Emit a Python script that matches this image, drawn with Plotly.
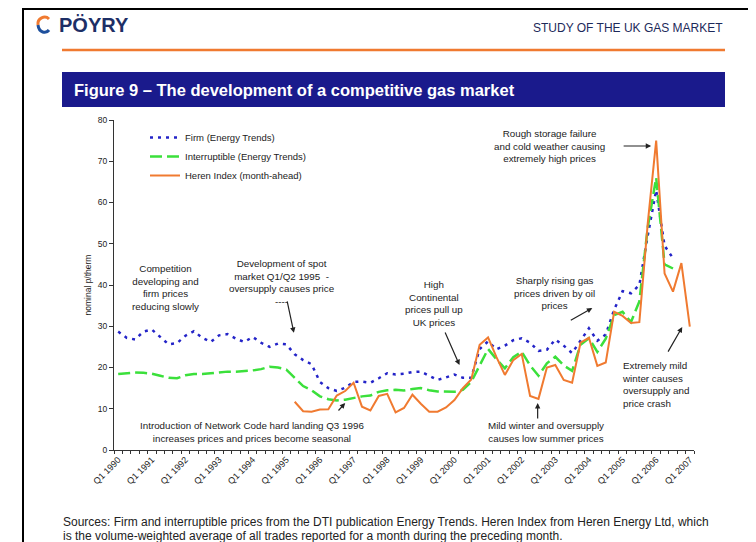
import plotly.graph_objects as pGraph

FIRM_COLOR = '#2424c8'
INTERRUPT_COLOR = '#3be03b'
HEREN_COLOR = '#f07a30'
NAVY = '#1a1a8c'
FONT = 'Arial, Liberation Sans, sans-serif'

# quarterly categories Q1 1990 .. Q1 2007
quarters = ['Q%d %d' % (q, y) for y in range(1990, 2008) for q in range(1, 5)][:69]

# p/therm, Q1 1990 .. Q3 2006
firm = [28.7, 27.2, 26.8, 28.7, 29.2, 27.5, 25.6, 25.9, 27.7, 28.8,
        27.2, 26.2, 27.8, 28.1, 27.0, 26.2, 27.4, 26.0, 25.0, 25.8,
        25.6, 23.2, 21.8, 20.8, 16.5, 15.0, 14.3, 15.1, 16.5, 16.6,
        16.3, 17.4, 18.6, 18.3, 18.5, 18.9, 19.0, 18.0, 17.0, 17.6,
        18.3, 17.5, 17.5, 24.5, 26.3, 24.4, 25.3, 26.6, 27.1, 26.0,
        24.0, 24.3, 26.8, 25.3, 23.5, 26.5, 29.5, 26.5, 28.0, 34.0,
        38.5, 38.0, 40.0, 52.0, 63.0, 49.5, 46.5]
interruptible = [18.4, 18.6, 18.8, 18.7, 18.5, 18.0, 17.5, 17.4, 18.1, 18.4,
                 18.4, 18.6, 18.8, 19.0, 19.0, 19.1, 19.3, 19.6, 20.2, 20.0,
                 19.5, 17.5, 15.5, 14.5, 13.0, 12.3, 12.0, 12.2, 12.6, 13.0,
                 13.2, 14.1, 14.5, 14.6, 14.4, 14.8, 15.0, 14.5, 14.2, 14.1,
                 14.1, 14.6, 16.5, 20.5, 24.5, 22.0, 19.8, 22.5, 23.8, 20.5,
                 18.0, 21.0, 22.6, 20.5, 19.2, 25.5, 27.1, 23.8, 27.0, 32.7,
                 33.5, 31.0, 36.0, 54.0, 66.0, 45.0, 44.0]
# Heren index, Q2 1995 .. Q1 2007
heren = [11.7, 9.4, 9.3, 9.8, 9.9, 13.2, 14.3, 16.3, 10.5, 9.6,
         13.1, 13.6, 9.1, 10.2, 13.4, 11.2, 9.3, 9.3, 10.3, 12.1,
         15.0, 17.1, 25.5, 27.3, 22.5, 18.2, 21.8, 23.3, 13.1, 12.4,
         20.0, 20.6, 17.0, 16.3, 26.0, 27.2, 20.4, 21.2, 33.5, 32.5,
         30.8, 31.0, 55.0, 75.0, 42.8, 38.4, 45.3, 29.9]
heren_start = 21

# page geometry, in screen pixels (the page body adds an 8px offset)
OFF = 8
W, H = 748, 534
PLOT_L, PLOT_R, PLOT_T, PLOT_B = 114, 694, 120, 450


def px(x):
    return (x - PLOT_L) / (PLOT_R - PLOT_L)


def py(y):
    return (PLOT_B - y) / (PLOT_B - PLOT_T)


fig = pGraph.Figure()

fig.add_trace(pGraph.Scatter(
    x=quarters[:len(firm)], y=firm, mode='lines', name='Firm (Energy Trends)',
    line=dict(color=FIRM_COLOR, width=2.5, dash='3px,5px'), hoverinfo='skip'
))
fig.add_trace(pGraph.Scatter(
    x=quarters[:len(interruptible)], y=interruptible, mode='lines',
    name='Interruptible (Energy Trends)',
    line=dict(color=INTERRUPT_COLOR, width=2.5, dash='12px,5px'), hoverinfo='skip'
))
fig.add_trace(pGraph.Scatter(
    x=quarters[heren_start:heren_start + len(heren)], y=heren, mode='lines',
    name='Heren Index (month-ahead)',
    line=dict(color=HEREN_COLOR, width=2), hoverinfo='skip'
))

# text notes: (text, x index, y value, xanchor)
notes = [
    ('Competition<br>developing and<br>firm prices<br>reducing slowly', 5.6, 39.5, 'center'),
    ('Development of spot<br>market Q1/Q2 1995  -<br>oversupply causes price<br>----', 19.5, 40.5, 'center'),
    ('High<br>Continental<br>prices pull up<br>UK prices', 37.6, 35.6, 'center'),
    ('Sharply rising gas<br>prices driven by oil<br>prices', 51.9, 38.1, 'center'),
    ('Rough storage failure<br>and cold weather causing<br>extremely high prices', 51.3, 73.7, 'center'),
    ('Extremely mild<br>winter causes<br>oversupply and<br>price crash', 59.7, 15.8, 'left'),
    ('Mild winter and oversupply<br>causes low summer prices', 50.9, 4.4, 'center'),
    ('Introduction of Network Code hard landing Q3 1996<br>increases prices and prices become seasonal', 15.9, 4.4, 'center'),
]
for text, x, y, anchor in notes:
    fig.add_annotation(x=x, y=y, text=text, showarrow=False, xanchor=anchor,
                       align=anchor, font=dict(size=9.8, color='#222222', family=FONT))

# arrows: (head x index, head y value, tail dx px, tail dy px)
arrows = [
    (20.9, 28.4, -7, -33),
    (40.6, 20.6, -15, -34),
    (56.4, 34.4, -23, 13),
    (63.4, 73.7, -29, 0),
    (67.1, 29.8, -15, 26),
    (49.9, 11.4, 0, 17),
    (27.0, 11.4, -8, 9),
]
for hx, hy, ax, ay in arrows:
    fig.add_annotation(x=hx, y=hy, ax=ax, ay=ay, text='', showarrow=True,
                       arrowhead=2, arrowsize=0.9, arrowwidth=1.2, arrowcolor='#222222')

# page furniture
shapes = [
    dict(type='line', x0=px(22), x1=px(750), y0=py(9), y1=py(9), line=dict(color='black', width=2)),
    dict(type='line', x0=px(23), x1=px(23), y0=py(8), y1=py(542), line=dict(color='black', width=2)),
    dict(type='line', x0=px(750), x1=px(750), y0=py(8), y1=py(542), line=dict(color='black', width=2)),
    dict(type='line', x0=px(62), x1=px(725), y0=py(50), y1=py(50), line=dict(color='#f07a30', width=2.5)),
    dict(type='rect', x0=px(62), x1=px(725), y0=py(107), y1=py(72), fillcolor=NAVY, line=dict(width=0)),
    dict(type='path', path='M %f,%f C %f,%f %f,%f %f,%f' % (px(49), py(19), px(45), py(15), px(37), py(18), px(38), py(25)),
         line=dict(color='#f07a30', width=3)),
    dict(type='path', path='M %f,%f C %f,%f %f,%f %f,%f' % (px(38), py(25), px(39), py(33), px(46), py(34), px(49), py(30)),
         line=dict(color='#1d4f9c', width=3)),
]
for s in shapes:
    s.update(xref='paper', yref='paper', layer='above')
    fig.add_shape(**s)

page_text = [
    ('<b>PÖYRY</b>', 57, 25, 'left', 20, '#1d2f66'),
    ('STUDY OF THE UK GAS MARKET', 725, 28, 'right', 12, '#1d2a5a'),
    ('<b>Figure 9 – The development of a competitive gas market</b>', 72, 90, 'left', 16.5, 'white'),
    ('Sources: Firm and interruptible prices from the DTI publication Energy Trends. '
     'Heren Index from Heren Energy Ltd, which', 61, 522, 'left', 12, '#222222'),
    ('is the volume-weighted average of all trades reported for a month during the preceding month.',
     61, 535.5, 'left', 12, '#222222'),
]
for text, x, y, anchor, size, color in page_text:
    fig.add_annotation(x=px(x), y=py(y), xref='paper', yref='paper', text=text,
                       showarrow=False, xanchor=anchor, yanchor='middle',
                       font=dict(size=size, color=color, family=FONT))

fig.update_layout(
    width=W, height=H,
    margin=dict(l=PLOT_L - OFF, r=W - (PLOT_R - OFF), t=PLOT_T - OFF, b=H - (PLOT_B - OFF), pad=0),
    paper_bgcolor='white', plot_bgcolor='white',
    font=dict(family=FONT, color='#222222'),
    showlegend=True,
    legend=dict(x=px(145), y=py(123), xanchor='left', yanchor='top',
                bgcolor='rgba(0,0,0,0)', font=dict(size=9.5, color='#222222'),
                itemwidth=30),
)

fig.update_xaxes(
    type='category', range=[-0.5, 68.5],
    tickmode='array', tickvals=quarters,
    ticktext=[q if q.startswith('Q1') else '' for q in quarters],
    tickson='boundaries', ticks='outside', ticklen=3, tickcolor='#333333',
    tickangle=-45, tickfont=dict(size=9, color='#222222'),
    showline=True, linecolor='#333333', linewidth=1.2,
    showgrid=False, zeroline=False, fixedrange=True
)
fig.update_yaxes(
    range=[0, 80], dtick=10, ticks='outside', ticklen=4, tickcolor='#333333',
    tickfont=dict(size=8.5, color='#222222'),
    title=dict(text='nominal p/therm', font=dict(size=8.5, color='#222222'), standoff=4),
    showline=True, linecolor='#333333', linewidth=1.2,
    showgrid=False, zeroline=False, fixedrange=True
)

fig.write_html('out.html')
